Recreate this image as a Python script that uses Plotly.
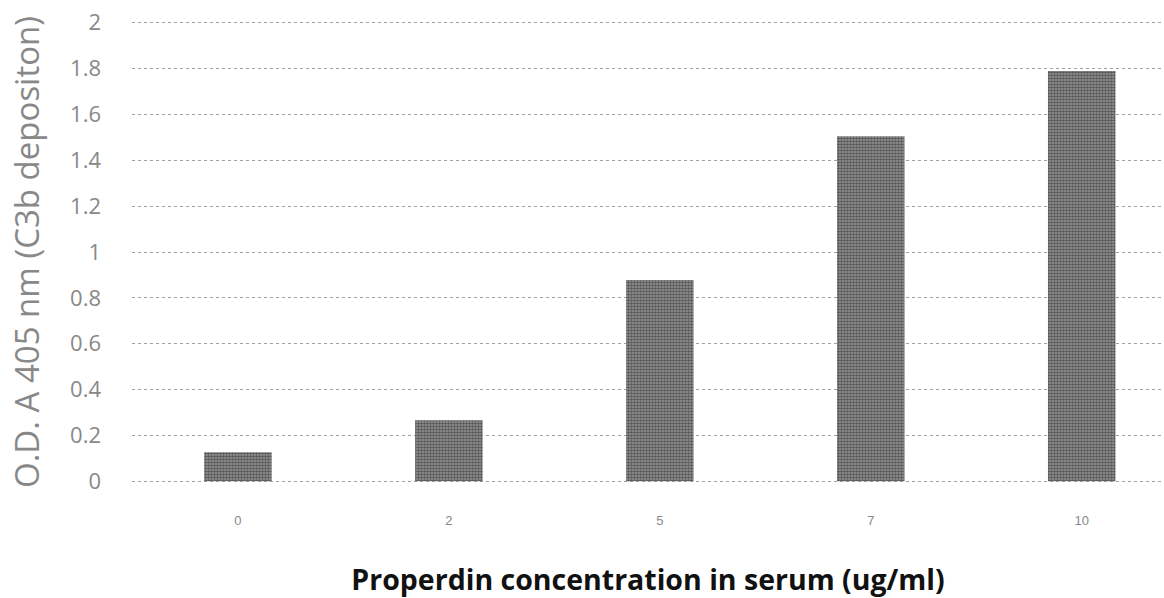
import plotly.graph_objects as go

categories = ["0", "2", "5", "7", "10"]
values = [0.127, 0.266, 0.878, 1.505, 1.79]
y_ticks = [0, 0.2, 0.4, 0.6, 0.8, 1, 1.2, 1.4, 1.6, 1.8, 2]
y_tick_text = ["0", "0.2", "0.4", "0.6", "0.8", "1", "1.2", "1.4", "1.6", "1.8", "2"]

fig = go.Figure()
fig.add_trace(go.Bar(
    x=categories, y=values, width=0.32,
    marker=dict(color="#666666",
                pattern=dict(shape=".", size=3, solidity=0.6, fgcolor="#111111", bgcolor="#9a9a9a"),
                line=dict(width=0)),
))

fig.update_layout(
    width=1164, height=598,
    margin=dict(l=132, r=0, t=20, b=114),
    plot_bgcolor="white", paper_bgcolor="white",
    showlegend=False,
    font=dict(family="Open Sans"),
)
fig.update_xaxes(
    type="category", range=[-0.502, 4.39], automargin=False,
    showgrid=False, showline=False, ticks="",
    tickfont=dict(size=13, color="#888888", family="Liberation Sans"),
    ticklabelstandoff=27,
    title=dict(text="<b>Properdin concentration in serum (ug/ml)</b>",
               font=dict(size=28.5, color="#111111", family="Open Sans"), standoff=43),
)
fig.update_yaxes(
    range=[-0.012, 2.012], tickvals=y_ticks, ticktext=y_tick_text, automargin=False,
    ticklabeloverflow="allow",
    showgrid=True, gridcolor="#a0a0a0", griddash="dot", gridwidth=1,
    zeroline=False, showline=False, ticks="",
    tickfont=dict(size=22, color="#888888", family="Open Sans"),
    ticklabelstandoff=30,
    title=dict(text="O.D. A 405 nm (C3b depositon)",
               font=dict(size=33, color="#888888", family="Open Sans"), standoff=20),
)

fig.write_html("out.html",
               config={"displayModeBar": False},
               post_script="document.body.style.margin='0';document.body.style.padding='0';")
